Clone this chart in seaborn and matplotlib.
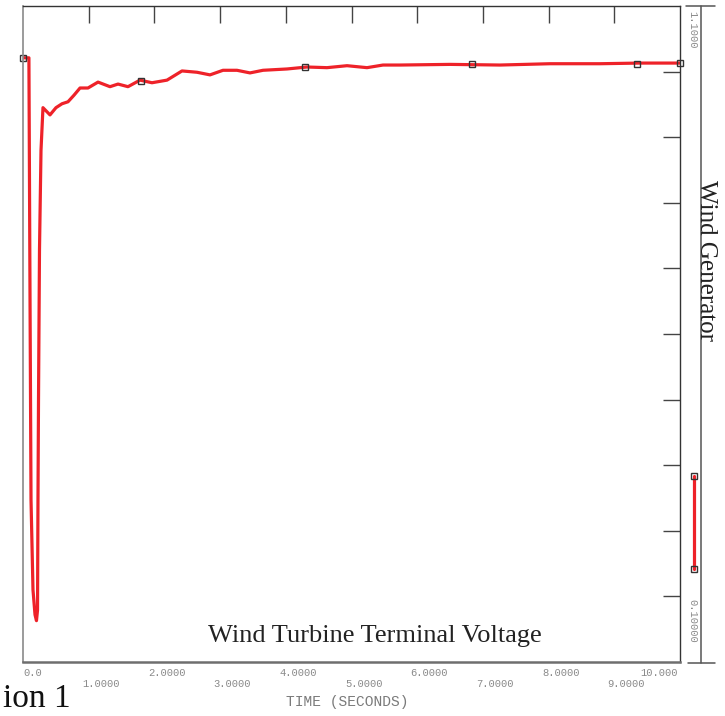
import numpy as np
import pandas as pd
import matplotlib
matplotlib.use("Agg")
import matplotlib.pyplot as plt
from matplotlib.lines import Line2D
import seaborn as sns

# time (s) and voltage (pu)
time_s = [0.0, 0.09, 0.107, 0.122, 0.152, 0.183, 0.205, 0.221, 0.228, 0.236, 0.251, 0.274,
          0.304, 0.411, 0.502, 0.594, 0.685, 0.776, 0.868, 0.989, 1.142, 1.324, 1.446, 1.598,
          1.781, 1.963, 2.192, 2.420, 2.648, 2.846, 3.044, 3.257, 3.455, 3.653, 4.018, 4.323,
          4.627, 4.932, 5.236, 5.479, 5.738, 6.5, 7.26, 8.02, 8.78, 9.39, 10.0]
volt_pu = [1.021, 1.021, 0.652, 0.347, 0.210, 0.172, 0.163, 0.179, 0.347, 0.499, 0.728, 0.880,
           0.945, 0.934, 0.945, 0.951, 0.954, 0.964, 0.975, 0.975, 0.984, 0.977, 0.981, 0.977,
           0.987, 0.983, 0.987, 1.001, 0.999, 0.995, 1.002, 1.002, 0.998, 1.002, 1.004, 1.007,
           1.006, 1.009, 1.006, 1.010, 1.010, 1.011, 1.010, 1.012, 1.012, 1.013, 1.013]

# square markers along the trace
mark_t = [0.0, 1.796, 4.29, 6.83, 9.35, 10.0]
mark_v = [1.021, 0.986, 1.007, 1.011, 1.012, 1.013]

x_ticks = [1, 2, 3, 4, 5, 6, 7, 8, 9]
y_ticks = [0.2, 0.3, 0.4, 0.5, 0.6, 0.7, 0.8, 0.9, 1.0]
x_labels = ["0.0", "1.0000", "2.0000", "3.0000", "4.0000", "5.0000",
            "6.0000", "7.0000", "8.0000", "9.0000", "10.000"]
y_min, y_max = 0.1, 1.1

sns.set_style("white")
plt.rcParams["font.family"] = ["Liberation Serif", "DejaVu Serif"]

W, H = 725, 716
fig = plt.figure(figsize=(W / 100, H / 100), dpi=100)


def fx(x):
    return x / W


def fy(y):
    return 1 - y / H


ax = fig.add_axes([fx(23), fy(662), 657 / W, 656 / H])

df = pd.DataFrame({"t": time_s, "v": volt_pu})
sns.lineplot(data=df, x="t", y="v", ax=ax, color="#ee2229", linewidth=2.3, sort=False)
ax.plot(mark_t, mark_v, ls="none", marker="s", ms=4.5, mfc="none", mec="#333333", mew=1, clip_on=False)

ax.set_xlim(0, 10)
ax.set_ylim(y_min, y_max)
ax.set_xticks(x_ticks)
ax.set_yticks(y_ticks)
ax.tick_params(direction="in", length=12.5, width=1, colors="#444444",
               top=True, right=True, labelbottom=False, labelleft=False)
ax.set_xlabel("")
ax.set_ylabel("")
for side in ["top", "right"]:
    ax.spines[side].set_color("#333333")
    ax.spines[side].set_linewidth(1)
ax.spines["left"].set_color("#8a8a8a")
ax.spines["left"].set_linewidth(1.2)
ax.spines["bottom"].set_color("#6e6e6e")
ax.spines["bottom"].set_linewidth(1.8)

# two-row x labels, the PSS/E way
mono = dict(family="Liberation Mono", fontsize=7.6, color="#8a8a8a")
trans = ax.get_xaxis_transform()
for i, lab in enumerate(x_labels):
    row_y = -0.0175 if i % 2 == 0 else -0.033
    if i == 0:
        ax.text(0, row_y, lab, ha="left", va="center", transform=trans, **mono)
    elif i == 10:
        ax.text(9.96, row_y, lab, ha="right", va="center", transform=trans, **mono)
    else:
        ax.text(i - 0.1, row_y, lab, ha="left", va="center", transform=trans, **mono)

fig.text(fx(347), fy(702), "TIME (SECONDS)", ha="center", va="center",
         family="Liberation Mono", fontsize=10.5, color="#7a7a7a")

ax.text(0.535, 0.04, "Wind Turbine Terminal Voltage", transform=ax.transAxes,
        ha="center", va="center", fontsize=19, color="#222222")

fig.text(fx(3), fy(714), "ion 1", ha="left", va="bottom", fontsize=24, color="#111111")

# right-hand channel strip
for (x0, y0, x1, y1) in [(686, 6, 715, 6), (688, 663, 715, 663), (701, 6, 701, 663)]:
    fig.add_artist(Line2D([fx(x0), fx(x1)], [fy(y0), fy(y1)], transform=fig.transFigure,
                          color="#555555", lw=1.1))
fig.text(fx(692), fy(11), "1.1000", rotation=-90, ha="center", va="top",
         family="Liberation Mono", fontsize=7.6, color="#8a8a8a")
fig.text(fx(692), fy(599), "0.10000", rotation=-90, ha="center", va="top",
         family="Liberation Mono", fontsize=7.6, color="#8a8a8a")
fig.text(fx(706), fy(260), "Wind Generator", rotation=-90, ha="center", va="center",
         fontsize=18, color="#222222")
fig.add_artist(Line2D([fx(694), fx(694)], [fy(476), fy(569)], transform=fig.transFigure,
                      color="#ee2229", lw=2.3, marker="s", ms=4.5, mfc="none",
                      mec="#333333", mew=1))

fig.savefig("out.png", dpi=100)
